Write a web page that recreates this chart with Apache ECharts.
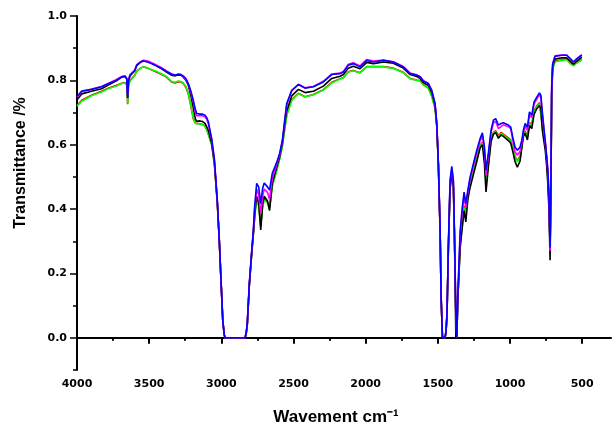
<!DOCTYPE html>
<html>
<head>
<meta charset="utf-8">
<script src="https://cdn.jsdelivr.net/npm/echarts@6/dist/echarts.min.js"></script>
<style>html,body{margin:0;padding:0;background:#fff}#c{width:613px;height:428px}</style>
</head>
<body>
<div id="c"></div>
<script>
// Wavenumber grid (cm-1)
var wavenumbers = [
4000,3967,3900,3830,3780,3730,3690,3667,3655,3649,
3643,3633,3600,3586,3560,3540,3510,3482,3450,3413,
3380,3344,3320,3298,3280,3263,3245,3229,3210,3194,
3180,3171,3148,3130,3113,3100,3090,3067,3048,3028,
3014,3002,2990,2980,2974,2836,2828,2820,2806,2789,
2778,2771,2763,2755,2741,2727,2714,2703,2680,2666,
2647,2619,2596,2577,2560,2547,2512,2466,2420,2362,
2293,2235,2177,2154,2120,2085,2039,2027,1992,1946,
1877,1808,1739,1692,1646,1623,1600,1565,1542,1519,
1507,1496,1484,1477,1468,1459,1450,1443,1436,1427,
1415,1403,1392,1385,1375,1368,1362,1345,1330,1318,
1306,1292,1276,1253,1230,1207,1191,1177,1166,1150,
1131,1115,1099,1080,1062,1046,1034,1011,995,981,
965,949,930,918,907,895,879,865,849,833,
814,796,786,777,768,756,745,738,730,722,
716,711,704,688,676,641,607,583,560,542,
514,502];

var greenT = [
0.720,0.735,0.752,0.764,0.775,0.782,0.790,0.792,0.785,0.728,
0.782,0.798,0.815,0.828,0.838,0.842,0.838,0.833,0.828,0.820,
0.812,0.796,0.794,0.798,0.796,0.792,0.780,0.760,0.720,0.682,
0.666,0.663,0.664,0.662,0.657,0.645,0.632,0.600,0.540,0.420,
0.300,0.175,0.055,0.010,0.000,0.000,0.010,0.040,0.160,0.262,
0.320,0.360,0.400,0.425,0.410,0.345,0.405,0.428,0.420,0.400,
0.470,0.515,0.555,0.595,0.650,0.690,0.738,0.759,0.748,0.755,
0.770,0.792,0.804,0.808,0.826,0.830,0.823,0.819,0.842,0.842,
0.842,0.837,0.824,0.805,0.800,0.798,0.786,0.775,0.750,0.712,
0.655,0.535,0.330,0.125,0.003,0.000,0.000,0.020,0.076,0.270,
0.460,0.500,0.460,0.320,0.070,0.005,0.110,0.290,0.355,0.405,
0.380,0.440,0.475,0.515,0.555,0.595,0.605,0.565,0.480,0.540,
0.615,0.635,0.641,0.625,0.635,0.630,0.624,0.618,0.612,0.590,
0.562,0.547,0.562,0.595,0.630,0.640,0.624,0.666,0.660,0.702,
0.718,0.728,0.722,0.665,0.640,0.600,0.550,0.500,0.420,0.270,
0.480,0.750,0.835,0.858,0.862,0.862,0.865,0.852,0.845,0.852,
0.860,0.865];

var redT = [
0.722,0.738,0.754,0.766,0.776,0.784,0.791,0.793,0.786,0.726,
0.784,0.800,0.816,0.829,0.838,0.842,0.838,0.832,0.826,0.818,
0.810,0.794,0.792,0.796,0.795,0.790,0.778,0.758,0.718,0.680,
0.667,0.664,0.665,0.663,0.658,0.646,0.633,0.600,0.540,0.421,
0.300,0.176,0.055,0.010,0.000,0.000,0.011,0.041,0.162,0.264,
0.322,0.365,0.405,0.430,0.415,0.350,0.410,0.432,0.422,0.405,
0.473,0.518,0.557,0.598,0.652,0.692,0.740,0.760,0.749,0.756,
0.771,0.794,0.805,0.809,0.827,0.831,0.824,0.820,0.843,0.843,
0.843,0.838,0.825,0.806,0.801,0.799,0.787,0.776,0.752,0.714,
0.656,0.536,0.331,0.126,0.003,0.000,0.000,0.020,0.076,0.272,
0.465,0.505,0.465,0.322,0.072,0.003,0.112,0.295,0.360,0.410,
0.385,0.444,0.478,0.518,0.558,0.598,0.608,0.568,0.485,0.545,
0.618,0.638,0.644,0.628,0.638,0.633,0.627,0.621,0.615,0.593,
0.565,0.550,0.565,0.598,0.632,0.643,0.627,0.669,0.663,0.705,
0.721,0.731,0.725,0.668,0.643,0.603,0.553,0.503,0.425,0.280,
0.485,0.755,0.838,0.860,0.864,0.864,0.866,0.854,0.847,0.854,
0.862,0.867];

var blackT = [
0.740,0.758,0.766,0.774,0.786,0.798,0.810,0.812,0.804,0.745,
0.798,0.814,0.830,0.846,0.857,0.862,0.858,0.852,0.845,0.836,
0.826,0.816,0.814,0.817,0.816,0.810,0.800,0.785,0.750,0.715,
0.680,0.673,0.674,0.672,0.666,0.655,0.645,0.605,0.545,0.424,
0.302,0.177,0.055,0.010,0.000,0.000,0.012,0.042,0.165,0.268,
0.326,0.370,0.410,0.440,0.420,0.335,0.415,0.440,0.425,0.395,
0.480,0.525,0.562,0.605,0.665,0.705,0.752,0.772,0.762,0.766,
0.782,0.806,0.813,0.818,0.838,0.844,0.836,0.831,0.856,0.852,
0.857,0.853,0.838,0.818,0.812,0.806,0.793,0.784,0.762,0.722,
0.660,0.538,0.332,0.126,0.003,0.000,0.000,0.020,0.076,0.275,
0.470,0.510,0.470,0.325,0.000,0.010,0.115,0.280,0.345,0.395,
0.360,0.430,0.468,0.508,0.548,0.590,0.600,0.540,0.453,0.530,
0.610,0.632,0.638,0.620,0.630,0.626,0.620,0.613,0.605,0.580,
0.548,0.530,0.550,0.590,0.625,0.636,0.615,0.660,0.650,0.695,
0.712,0.722,0.712,0.650,0.620,0.585,0.530,0.480,0.400,0.241,
0.470,0.760,0.845,0.866,0.870,0.870,0.870,0.860,0.850,0.858,
0.868,0.872];

var magentaT = [
0.748,0.765,0.772,0.781,0.791,0.802,0.812,0.814,0.806,0.752,
0.801,0.817,0.832,0.849,0.858,0.862,0.860,0.855,0.848,0.839,
0.829,0.820,0.817,0.820,0.818,0.812,0.803,0.788,0.760,0.733,
0.700,0.690,0.690,0.690,0.686,0.678,0.665,0.615,0.552,0.426,
0.302,0.178,0.055,0.010,0.000,0.000,0.014,0.044,0.167,0.270,
0.330,0.385,0.425,0.462,0.445,0.385,0.440,0.462,0.452,0.430,
0.495,0.535,0.568,0.610,0.675,0.722,0.768,0.788,0.777,0.781,
0.797,0.820,0.823,0.828,0.850,0.855,0.845,0.840,0.865,0.860,
0.863,0.858,0.843,0.823,0.817,0.812,0.799,0.790,0.768,0.726,
0.664,0.540,0.333,0.127,0.003,0.000,0.000,0.020,0.076,0.280,
0.485,0.525,0.485,0.330,0.070,0.000,0.122,0.320,0.395,0.440,
0.405,0.452,0.492,0.535,0.575,0.612,0.628,0.585,0.505,0.565,
0.638,0.668,0.672,0.650,0.656,0.662,0.660,0.656,0.650,0.615,
0.578,0.568,0.580,0.605,0.638,0.658,0.645,0.694,0.684,0.726,
0.742,0.755,0.748,0.700,0.660,0.608,0.556,0.520,0.440,0.270,
0.490,0.775,0.850,0.876,0.882,0.879,0.879,0.868,0.857,0.865,
0.875,0.880];

var blueT = [
0.750,0.767,0.772,0.780,0.790,0.800,0.811,0.813,0.805,0.748,
0.800,0.816,0.830,0.847,0.856,0.860,0.857,0.852,0.845,0.837,
0.828,0.819,0.816,0.819,0.818,0.813,0.805,0.790,0.765,0.738,
0.710,0.697,0.695,0.695,0.692,0.683,0.671,0.620,0.555,0.428,
0.303,0.179,0.055,0.010,0.000,0.000,0.015,0.045,0.169,0.272,
0.334,0.397,0.440,0.480,0.469,0.417,0.464,0.481,0.469,0.459,
0.511,0.542,0.573,0.614,0.680,0.728,0.769,0.787,0.776,0.780,
0.795,0.818,0.821,0.826,0.847,0.852,0.842,0.837,0.862,0.857,
0.862,0.857,0.842,0.821,0.816,0.811,0.798,0.790,0.769,0.728,
0.666,0.542,0.334,0.127,0.003,0.000,0.000,0.020,0.076,0.283,
0.490,0.533,0.490,0.334,0.076,0.000,0.127,0.334,0.407,0.453,
0.417,0.459,0.500,0.542,0.583,0.619,0.637,0.593,0.521,0.573,
0.645,0.676,0.681,0.661,0.666,0.668,0.666,0.661,0.655,0.624,
0.593,0.583,0.593,0.614,0.645,0.666,0.655,0.702,0.692,0.733,
0.748,0.761,0.754,0.707,0.666,0.614,0.562,0.526,0.450,0.280,
0.500,0.780,0.852,0.875,0.881,0.878,0.878,0.868,0.857,0.865,
0.875,0.878];

var xMajorTicks = [4000,3500,3000,2500,2000,1500,1000,500];
var xMinorTicks = [3750,3250,2750,2250,1750,1250,750];
var yMajorTicks = [0,0.2,0.4,0.6,0.8,1.0];
var yMinorTicks = [-0.1,0.1,0.3,0.5,0.7,0.9];

var seriesDefs = [
  {name:'red', color:'#ff0000', data:redT},
  {name:'green', color:'#00ff00', data:greenT},
  {name:'black', color:'#000000', data:blackT},
  {name:'magenta', color:'#ff00ff', data:magentaT},
  {name:'blue', color:'#0000ff', data:blueT}
];

function pairs(arr){ return wavenumbers.map(function(w,i){ return [w, arr[i]]; }); }

var labelFont = {color:'#000', fontFamily:'DejaVu Sans', fontWeight:'bold', fontSize:11};

var chart = echarts.init(document.getElementById('c'), null, {renderer:'canvas'});
chart.setOption({
  animation:false,
  backgroundColor:'#fff',
  grid:{left:77, right:2, top:16, bottom:58, containLabel:false},
  xAxis:[
    {type:'value', inverse:true, min:300, max:4000, position:'bottom',
     axisLine:{show:true, lineStyle:{color:'#000', width:2}},
     axisTick:{show:true, customValues:xMajorTicks, length:6, lineStyle:{color:'#000', width:2}},
     axisLabel:Object.assign({show:true, customValues:xMajorTicks, margin:9,
       formatter:function(v){ return String(Math.round(v)); }}, labelFont),
     splitLine:{show:false}},
    {type:'value', inverse:true, min:300, max:4000, position:'bottom', offset:0,
     axisLine:{show:false},
     axisTick:{show:true, customValues:xMinorTicks, length:3, lineStyle:{color:'#000', width:2}},
     axisLabel:{show:false},
     splitLine:{show:false}}
  ],
  yAxis:[
    {type:'value', min:-0.1, max:1.0, position:'left',
     axisLine:{show:true, lineStyle:{color:'#000', width:2}},
     axisTick:{show:true, customValues:yMajorTicks, length:7, lineStyle:{color:'#000', width:1.5}},
     axisLabel:Object.assign({show:true, customValues:yMajorTicks, margin:10,
       formatter:function(v){ return Number(v).toFixed(1); }}, labelFont),
     splitLine:{show:false}},
    {type:'value', min:-0.1, max:1.0, position:'left', offset:0,
     axisLine:{show:false},
     axisTick:{show:true, customValues:yMinorTicks, length:4, lineStyle:{color:'#000', width:1.5}},
     axisLabel:{show:false},
     splitLine:{show:false}}
  ],
  graphic:[
    {type:'text', x:336, y:417, style:{text:'Wavement cm\u207B\u00B9', fill:'#000',
      font:'bold 17px "Liberation Sans", Arial, sans-serif', textAlign:'center', textVerticalAlign:'middle'}},
    {type:'text', x:21, y:163, rotation:Math.PI/2, style:{text:'Transmittance /%', fill:'#000',
      font:'bold 16px "Liberation Sans", Arial, sans-serif', textAlign:'center', textVerticalAlign:'middle'}}
  ],
  series: seriesDefs.map(function(s){
    return {type:'line', name:s.name, xAxisIndex:0, yAxisIndex:0, data:pairs(s.data),
      showSymbol:false, symbol:'none', lineStyle:{color:s.color, width:1.6}, itemStyle:{color:s.color}};
  })
});
</script>
</body>
</html>
